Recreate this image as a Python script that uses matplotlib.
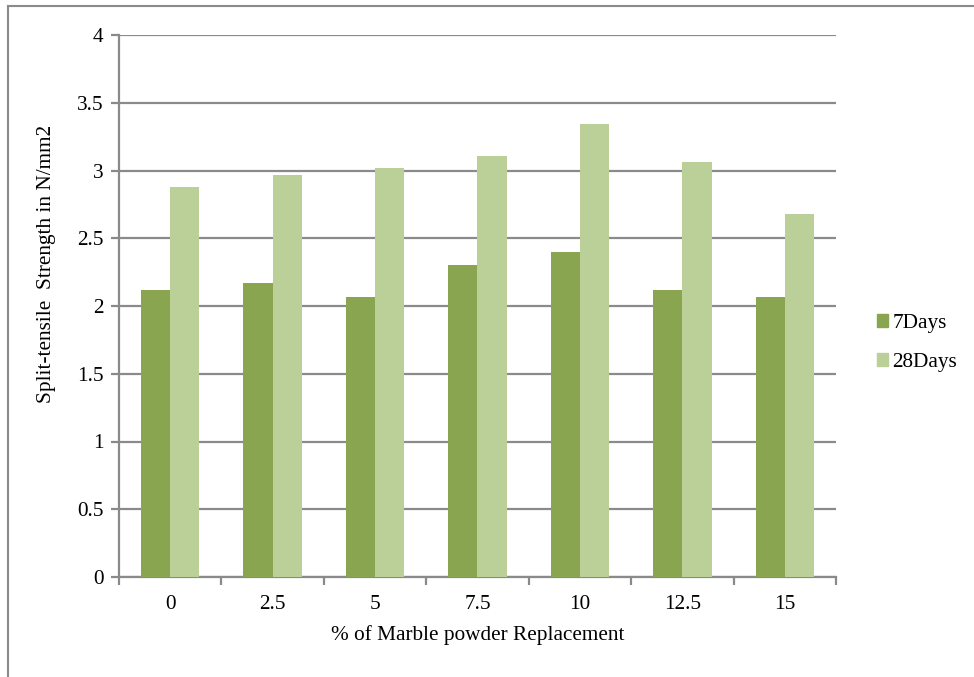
import numpy as np
import matplotlib
matplotlib.use("Agg")
import matplotlib.pyplot as plt
from matplotlib.lines import Line2D
from matplotlib.patches import Patch

# data
categories = ["0", "2.5", "5", "7.5", "10", "12.5", "15"]
days7 = [2.12, 2.17, 2.07, 2.30, 2.40, 2.12, 2.07]
days28 = [2.88, 2.97, 3.02, 3.11, 3.34, 3.06, 2.68]
series_names = ["7Days", "28Days"]
yticks = [0, 0.5, 1, 1.5, 2, 2.5, 3, 3.5, 4]

plt.rcParams['font.family'] = ['Liberation Serif', 'DejaVu Serif']
fs = 15.3

c_dark = "#8aa54f"
c_light = "#bbcf98"
c_grid = "#8a8a8a"

fig = plt.figure(figsize=(9.74, 6.77), dpi=100)
ax = fig.add_axes([119 / 974, 1 - 577 / 677, (836 - 119) / 974, (577 - 35) / 677])

x = np.arange(len(categories))
w = 1 / 3.5
ax.bar(x - w / 2, days7, width=w, color=c_dark, zorder=3)
ax.bar(x + w / 2, days28, width=w, color=c_light, zorder=3)

ax.set_xlim(-0.5, len(categories) - 0.5)
ax.set_ylim(0, 4)
ax.set_yticks(yticks)
ax.set_yticklabels([f"{t:g}" for t in yticks], fontsize=fs)
ax.yaxis.grid(True, color=c_grid, linewidth=1.6, zorder=0)

# category labels sit between the boundary ticks
ax.set_xticks(x)
ax.set_xticklabels(categories, fontsize=fs)
ax.tick_params(axis='x', which='major', length=0, pad=13)
ax.set_xticks(np.arange(-0.5, len(categories), 1), minor=True)
ax.tick_params(axis='x', which='minor', length=6, width=1.6, color=c_grid, direction='out')
ax.tick_params(axis='y', length=6, width=1.6, color=c_grid, pad=5)

for s in ['top', 'right']:
    ax.spines[s].set_visible(False)
for s in ['left', 'bottom']:
    ax.spines[s].set_color(c_grid)
    ax.spines[s].set_linewidth(1.6)

ax.set_xlabel("% of Marble powder Replacement", fontsize=fs, labelpad=8)
ax.set_ylabel("Split-tensile  Strength in N/mm2", fontsize=fs)
ax.yaxis.set_label_coords(-0.088, (577 - 264) / 542)

handles = [Patch(color=c_dark), Patch(color=c_light)]
fig.legend(handles, series_names, loc='center left', bbox_to_anchor=(877 / 974, 1 - 343 / 677),
           frameon=False, fontsize=fs, handlelength=0.52, handleheight=0.52,
           handletextpad=0.2, labelspacing=0.95, borderpad=0, borderaxespad=0)

# outer chart frame
fig.add_artist(Line2D([7.5 / 974, 7.5 / 974], [0, 1 - 6 / 677], color=c_grid, linewidth=1.5))
fig.add_artist(Line2D([7.5 / 974, 1], [1 - 6 / 677, 1 - 6 / 677], color=c_grid, linewidth=1.5))

fig.savefig("out.png", dpi=100)
